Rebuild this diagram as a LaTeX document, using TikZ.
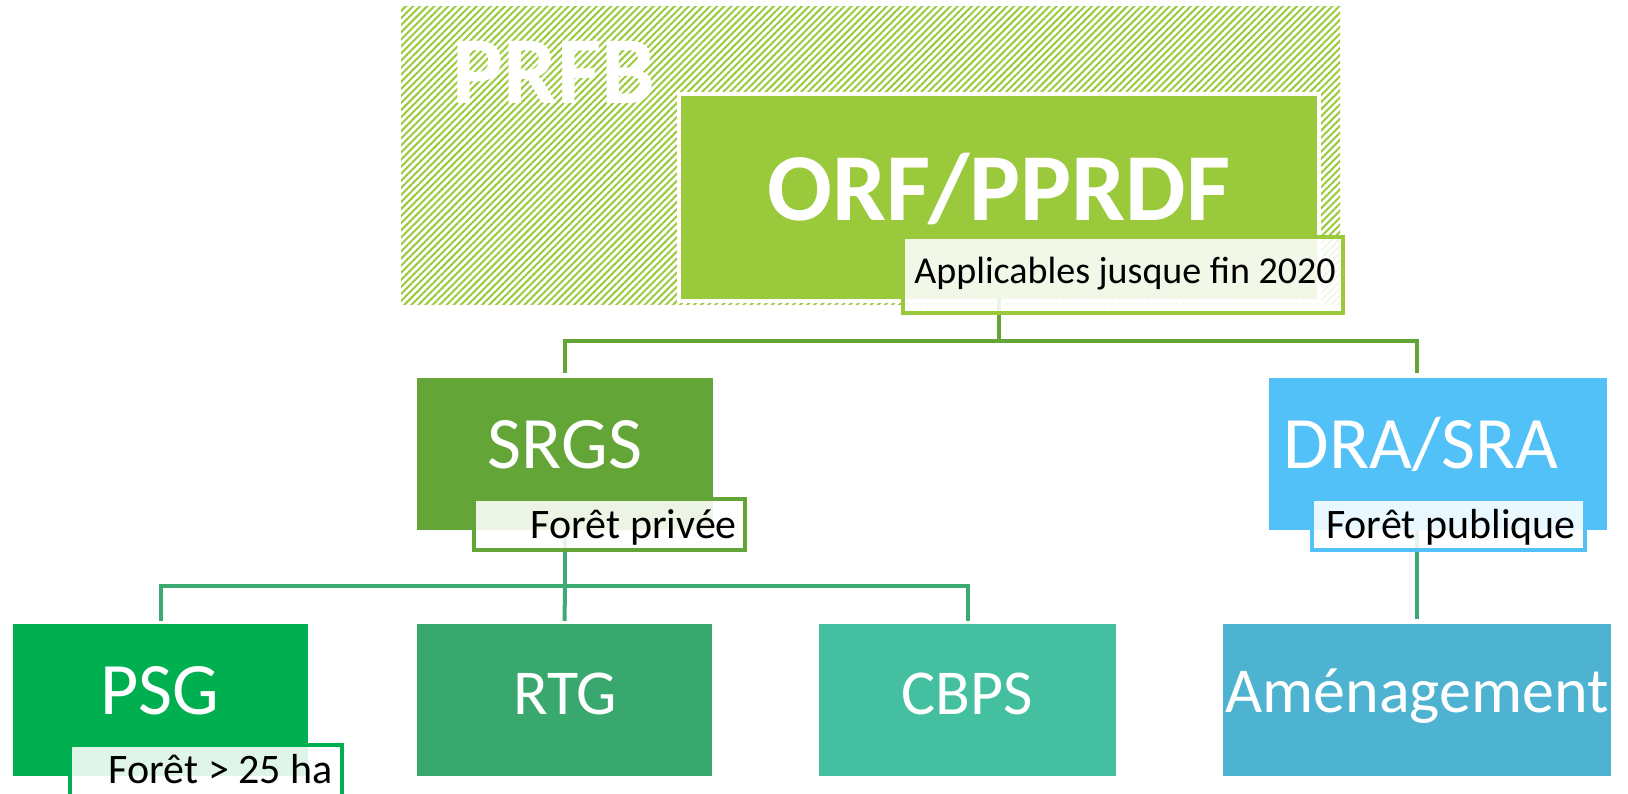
\documentclass[tikz,border=0pt]{standalone}
\usepackage{fontspec}
\setmainfont{Carlito}
\usetikzlibrary{patterns.meta}
\definecolor{cORF}{HTML}{9ACA3C}
\definecolor{cSRGS}{HTML}{63A537}
\definecolor{cDRA}{HTML}{52C1F7}
\definecolor{cPSG}{HTML}{00B050}
\definecolor{cRTG}{HTML}{38A86E}
\definecolor{cCBPS}{HTML}{44C0A0}
\definecolor{cAME}{HTML}{4EB3D1}
\definecolor{cLink}{HTML}{3DAA72}
\begin{document}
\begin{tikzpicture}[x=1pt,y=-1pt,
  box/.style={rectangle, inner sep=0pt, outer sep=0pt, draw=none},
  lab/.style={rectangle, inner sep=0pt, outer sep=0pt, fill=white, fill opacity=0.88, line width=3.5pt},
  big/.style={text=white, inner sep=0pt, anchor=base, font=\fontsize{74}{80}\selectfont},
  mid/.style={text=white, inner sep=0pt, anchor=base, font=\fontsize{64}{70}\selectfont},
  small/.style={text=black, inner sep=0pt, anchor=base east, font=\fontsize{42}{46}\selectfont},
  link1/.style={draw=cSRGS, line width=4pt},
  link2/.style={draw=cLink, line width=4pt}]
\useasboundingbox (0,0) rectangle (1628,794);
% hatched zone
\node[box, minimum width=939pt, minimum height=298pt,
      pattern={Lines[angle=45,distance=5pt,line width=2pt]}, pattern color=cORF] (zone) at (870.5,156) {};
% boxes
\node[box, fill=cORF, preaction={draw=white, line width=8pt}, minimum width=636pt, minimum height=203pt] (orf) at (999,197.5) {};
\node[box, fill=cSRGS, minimum width=296pt, minimum height=152pt] (srgs) at (565,454) {};
\node[box, fill=cDRA, minimum width=338pt, minimum height=152pt] (dra) at (1438,454) {};
\node[box, fill=cPSG, minimum width=295pt, minimum height=152pt] (psg) at (160.5,700) {};
\node[box, fill=cRTG, minimum width=295pt, minimum height=152pt] (rtg) at (564.5,700) {};
\node[box, fill=cCBPS, minimum width=297pt, minimum height=152pt] (cbps) at (967.5,700) {};
\node[box, fill=cAME, minimum width=388pt, minimum height=152pt] (ame) at (1417,700) {};
% connectors
\coordinate (j1) at (999,341);
\coordinate (draIn) at (ame.north |- dra.north);
\coordinate (draOut) at (ame.north |- dra.south);
\coordinate (j2) at (565,586);
\draw[link1, shorten >=5pt] (orf.south) -- (j1) -| (srgs.north);
\draw[link1, shorten >=5pt] (j1) -| (draIn);
\draw[link2] (srgs.south) -- (j2);
\draw[link2, shorten >=3pt] (j2) -| (psg.north);
\draw[link2, shorten >=3pt] (j2) -| (cbps.north);
\draw[link2, shorten >=3pt] (j2) -- (rtg.north);
\draw[link2, shorten >=5pt] (draOut) -- (ame.north);
% labels
\node[lab, draw=cORF, minimum width=440pt, minimum height=76pt] (appL) at (1123,275) {};
\node[lab, draw=cSRGS, minimum width=271pt, minimum height=51pt] (fprL) at (609.5,524.5) {};
\node[lab, draw=cDRA, minimum width=273pt, minimum height=51pt] (fpuL) at (1448.5,524.5) {};
\node[lab, draw=cPSG, minimum width=272pt, minimum height=52pt] (f25L) at (206,771) {};
% texts
\node[text=white, anchor=base west, inner sep=0pt, font=\bfseries\fontsize{96}{100}\selectfont] (prfb) at (452,104) {PRFB};
\node[text=white, anchor=base, inner sep=0pt, font=\bfseries\fontsize{96}{100}\selectfont] (orfT) at (999,221) {ORF/PPRDF};
\node[big] (srgsT) at (565,468) {SRGS};
\node[big] (draT) at (1421,468) {DRA/SRA};
\node[big] (psgT) at (160,714) {PSG};
\node[mid] (rtgT) at (565,714) {RTG};
\node[mid] (cbpsT) at (967,714) {CBPS};
\node[mid] (ameT) at (1417,712) {Aménagement};
\node[small, font=\fontsize{38}{42}\selectfont] (appT) at (1336,284) {Applicables jusque fin 2020};
\node[small] (fprT) at (737,538) {Forêt privée};
\node[small] (fpuT) at (1576,538) {Forêt publique};
\node[small] (f25T) at (333,783) {Forêt > 25 ha};
\end{tikzpicture}
\end{document}
